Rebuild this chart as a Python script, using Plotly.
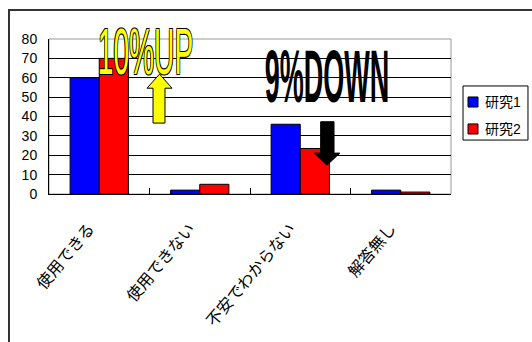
import plotly.graph_objects as go

categories = ["使用できる", "使用できない", "不安でわからない", "解答無し"]
series1_name = "研究1"
series2_name = "研究2"
series1 = [60, 2, 36, 2]
series2 = [70, 5, 23.5, 1]
y_ticks = [0, 10, 20, 30, 40, 50, 60, 70, 80]
colors = ["#0000FF", "#FF0000"]

FONT = "Liberation Sans, Arial, Noto Sans CJK JP, sans-serif"

fig = go.Figure()
fig.add_trace(go.Bar(x=categories, y=series1, name=series1_name,
                     marker=dict(color=colors[0], line=dict(color="black", width=1))))
fig.add_trace(go.Bar(x=categories, y=series2, name=series2_name,
                     marker=dict(color=colors[1], line=dict(color="black", width=1))))

shapes = [
    dict(type="rect", xref="paper", yref="paper", x0=0, x1=1, y0=0, y1=1,
         line=dict(color="#999999", width=1), layer="below"),
    dict(type="path", xref="paper", yref="paper",
         path="M -0.0995 -1.1 L -0.0995 1.187 L 1.3 1.187",
         line=dict(color="#333333", width=2)),
    dict(type="path", xref="x", yref="y",
         path="M 0.535 36.6 L 0.535 54.6 L 0.475 54.6 L 0.6 61.9 L 0.724 54.6 L 0.654 54.6 L 0.654 36.6 Z",
         fillcolor="#FFFF00", line=dict(color="black", width=1)),
    dict(type="path", xref="x", yref="y",
         path="M 2.203 37.3 L 2.203 21.1 L 2.137 21.1 L 2.266 14.9 L 2.395 21.1 L 2.336 21.1 L 2.336 37.3 Z",
         fillcolor="black", line=dict(color="black", width=1)),
    dict(type="rect", xref="paper", yref="paper", x0=1.0299, x1=1.1915, y0=0.348, y1=0.697,
         line=dict(color="black", width=1), fillcolor="white"),
    dict(type="rect", xref="paper", yref="paper", x0=1.0423, x1=1.0672, y0=0.561, y1=0.626,
         line=dict(color="black", width=1), fillcolor=colors[0]),
    dict(type="rect", xref="paper", yref="paper", x0=1.0423, x1=1.0672, y0=0.387, y1=0.452,
         line=dict(color="black", width=1), fillcolor=colors[1]),
]

annotations = [
    dict(text="10%UP", x=0.46, y=73.5, xref="x", yref="y", showarrow=False,
         xanchor="center", yanchor="middle",
         font=dict(family=FONT, size=64, color="#FFFF00",
                   shadow="-1px -1px 0 #000, 1px -1px 0 #000, -1px 1px 0 #000, 1px 1px 0 #000")),
    dict(text="9%DOWN", x=2.266, y=61, xref="x", yref="y", showarrow=False,
         xanchor="center", yanchor="middle",
         font=dict(family=FONT, size=75, color="black", weight="bold")),
    dict(text=series1_name, x=1.0796, y=0.594, xref="paper", yref="paper", showarrow=False,
         xanchor="left", yanchor="middle", font=dict(family=FONT, size=14, color="black")),
    dict(text=series2_name, x=1.0796, y=0.419, xref="paper", yref="paper", showarrow=False,
         xanchor="left", yanchor="middle", font=dict(family=FONT, size=14, color="black")),
]

fig.update_layout(
    width=532, height=342,
    margin=dict(l=49, r=81, t=39, b=148, pad=0, autoexpand=False),
    paper_bgcolor="white", plot_bgcolor="white",
    barmode="group", bargap=0.42, bargroupgap=0,
    font=dict(family=FONT, size=14, color="black"),
    showlegend=False,
    shapes=shapes, annotations=annotations,
    xaxis=dict(range=[-0.5, 3.5], autorange=False, showline=True, linecolor="black", linewidth=1,
               ticks="inside", tickson="boundaries", ticklen=6, tickcolor="black",
               tickangle=-50, showgrid=False, tickfont=dict(size=16),
               ticklabelstandoff=18, ticklabelshift=-10),
    yaxis=dict(range=[0, 80], autorange=False, tickvals=y_ticks, showline=True, linecolor="black",
               linewidth=1, showgrid=True, gridcolor="black", gridwidth=1,
               ticks="", ticklabelstandoff=8, zeroline=False, tickfont=dict(size=14)),
)

post = """
var els = document.querySelectorAll('.annotation-text');
els.forEach(function(el){
  var t = el.textContent;
  var s = null;
  if (t === '10%UP') s = 0.44;
  if (t === '9%DOWN') s = 0.36;
  if (s) {
    el.style.transformBox = 'fill-box';
    el.style.transformOrigin = 'center';
    el.style.transform = 'scaleX(' + s + ')';
  }
});
"""

fig.write_html("out.html", post_script=post)
